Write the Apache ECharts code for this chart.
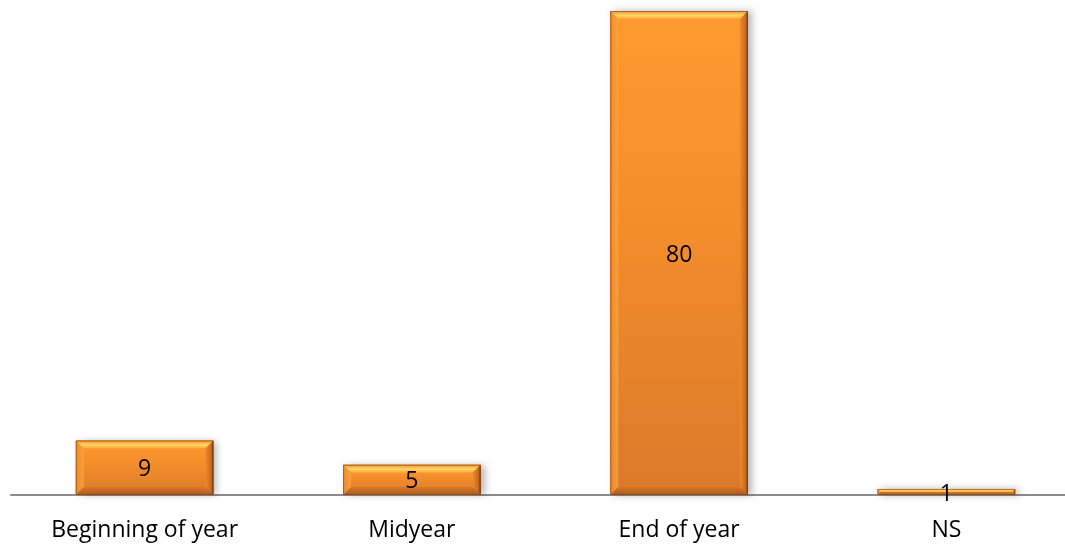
<!DOCTYPE html>
<html>
<head>
<meta charset="utf-8">
<script src="https://cdn.jsdelivr.net/npm/echarts@6/dist/echarts.min.js"></script>
<style>
  html, body { margin: 0; padding: 0; background: #fff; }
  #chart { width: 1065px; height: 544px; }
</style>
</head>
<body>
<div id="chart"></div>
<script>
// Timing categories and their counts
const categories = ['Beginning of year', 'Midyear', 'End of year', 'NS'];
const values = [9, 5, 80, 1];

const FONT = 'Open Sans, Liberation Sans, sans-serif';
const chart = echarts.init(document.getElementById('chart'), null, { renderer: 'canvas' });

// Bevelled orange column: body + four bevel facets + value text
function renderBevelBar(params, api) {
  const idx = api.value(0);
  const val = api.value(1);
  const base = api.coord([idx, 0]);
  const top = api.coord([idx, val]);
  const band = api.size([1, 0])[0];
  const w = band * 0.515;
  const x0 = base[0] - w / 2, x1 = base[0] + w / 2;
  const y0 = top[1], y1 = base[1];
  const h = y1 - y0;
  const b = Math.min(8, h / 2);

  const body = new echarts.graphic.LinearGradient(0, 0, 0, 1, [
    { offset: 0, color: '#FF9A2F' },
    { offset: 0.45, color: '#F38D2C' },
    { offset: 1, color: '#DA7A2A' }
  ]);
  const topFacet = new echarts.graphic.LinearGradient(0, 0, 0, 1, [
    { offset: 0, color: '#F39030' },
    { offset: 0.55, color: '#FFD865' },
    { offset: 1, color: '#FFA23A' }
  ]);
  const leftFacet = new echarts.graphic.LinearGradient(0, 0, 1, 0, [
    { offset: 0, color: '#E98A2E' },
    { offset: 1, color: '#FFA43C' }
  ]);
  const rightFacet = new echarts.graphic.LinearGradient(0, 0, 1, 0, [
    { offset: 0, color: '#F08A2A' },
    { offset: 0.7, color: '#C86A1E' },
    { offset: 1, color: '#6E3A10' }
  ]);
  const bottomFacet = new echarts.graphic.LinearGradient(0, 0, 0, 1, [
    { offset: 0, color: '#D47628' },
    { offset: 1, color: '#A65518' }
  ]);

  const children = [
    {
      type: 'rect',
      shape: { x: x0, y: y0, width: w, height: h },
      style: {
        fill: '#D07020',
        shadowColor: 'rgba(0,0,0,0.28)',
        shadowBlur: 7,
        shadowOffsetX: 4,
        shadowOffsetY: 0
      }
    },
    { type: 'rect', shape: { x: x0, y: y0, width: w, height: h }, style: { fill: body } },
    {
      type: 'polygon',
      shape: { points: [[x0, y0], [x1, y0], [x1 - b, y0 + b], [x0 + b, y0 + b]] },
      style: { fill: topFacet }
    },
    {
      type: 'polygon',
      shape: { points: [[x0, y0], [x0 + b, y0 + b], [x0 + b, y1 - b], [x0, y1]] },
      style: { fill: leftFacet, opacity: 0.8 }
    },
    {
      type: 'polygon',
      shape: { points: [[x1, y0], [x1, y1], [x1 - b, y1 - b], [x1 - b, y0 + b]] },
      style: { fill: rightFacet }
    },
    {
      type: 'polygon',
      shape: { points: [[x0, y1], [x1, y1], [x1 - b, y1 - b], [x0 + b, y1 - b]] },
      style: { fill: bottomFacet, opacity: 0.85 }
    },
    {
      type: 'rect',
      shape: { x: x0 + 0.5, y: y0 + 0.5, width: w - 1, height: h - 1 },
      style: { fill: null, stroke: 'rgba(120,60,15,0.55)', lineWidth: 1 }
    },
    {
      type: 'text',
      style: {
        text: String(val),
        x: (x0 + x1) / 2,
        y: (y0 + y1) / 2 + 2,
        align: 'center',
        verticalAlign: 'middle',
        fill: '#000',
        font: '23px ' + FONT
      },
      z2: 10
    }
  ];
  return { type: 'group', children: children };
}

chart.setOption({
  animation: false,
  grid: {
    left: 11, width: 1069, top: 11, bottom: 49,
    containLabel: false,
    outerBoundsMode: 'none'
  },
  xAxis: {
    type: 'category',
    data: categories,
    axisLine: { show: true, lineStyle: { color: '#8C8C8C', width: 2 } },
    axisTick: { show: false },
    axisLabel: {
      color: '#000',
      fontFamily: FONT,
      fontSize: 23,
      margin: 24
    },
    z: 1
  },
  yAxis: {
    type: 'value',
    min: 0,
    max: 80,
    show: false,
    splitLine: { show: false }
  },
  series: [{
    type: 'custom',
    renderItem: renderBevelBar,
    data: values.map((v, i) => [i, v]),
    encode: { x: 0, y: 1 },
    z: 5
  }]
});
</script>
</body>
</html>
